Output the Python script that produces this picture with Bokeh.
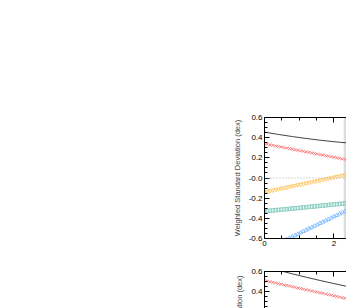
import math
from bokeh.plotting import figure
from bokeh.layouts import column
from bokeh.models import LinearAxis, FixedTicker, BoxAnnotation, Range1d, Span
from bokeh.embed import file_html
from bokeh.resources import INLINE

# ---- data ----
xs = [0.00, 0.08, 0.16, 0.24, 0.32, 0.40, 0.48, 0.56, 0.64, 0.72, 0.80, 0.88, 0.96, 1.04,
      1.12, 1.20, 1.28, 1.36, 1.44, 1.52, 1.60, 1.68, 1.76, 1.84, 1.92, 2.00, 2.08, 2.16,
      2.24, 2.32, 2.40]

red_top = [0.340, 0.335, 0.329, 0.324, 0.318, 0.313, 0.308, 0.302, 0.297, 0.292, 0.286,
           0.281, 0.275, 0.270, 0.265, 0.259, 0.254, 0.249, 0.243, 0.238, 0.232, 0.227,
           0.222, 0.216, 0.211, 0.206, 0.200, 0.195, 0.189, 0.184, 0.179]
orange_top = [-0.140, -0.134, -0.128, -0.122, -0.116, -0.111, -0.105, -0.099, -0.093, -0.087,
              -0.081, -0.075, -0.069, -0.064, -0.058, -0.052, -0.046, -0.040, -0.034, -0.028,
              -0.022, -0.017, -0.011, -0.005, 0.001, 0.007, 0.013, 0.019, 0.025, 0.031, 0.036]
teal_top = [-0.330, -0.327, -0.325, -0.322, -0.319, -0.317, -0.314, -0.311, -0.309, -0.306,
            -0.303, -0.300, -0.298, -0.295, -0.292, -0.290, -0.287, -0.284, -0.282, -0.279,
            -0.276, -0.273, -0.271, -0.268, -0.265, -0.263, -0.260, -0.257, -0.255, -0.252, -0.249]
blue_top = [-0.715, -0.702, -0.688, -0.675, -0.662, -0.649, -0.635, -0.622, -0.609, -0.595,
            -0.582, -0.569, -0.556, -0.542, -0.529, -0.516, -0.502, -0.489, -0.476, -0.463,
            -0.449, -0.436, -0.423, -0.410, -0.396, -0.383, -0.370, -0.356, -0.343, -0.330, -0.317]

line_x = [0.0, 0.4, 0.8, 1.2, 1.6, 2.0, 2.4]
black_top = [0.455, 0.432, 0.411, 0.392, 0.375, 0.360, 0.347]
black_bot = [0.648, 0.612, 0.577, 0.543, 0.511, 0.480, 0.450]

red_bot = [0.510, 0.504, 0.498, 0.492, 0.486, 0.480, 0.474, 0.468, 0.462, 0.456, 0.450,
           0.443, 0.437, 0.431, 0.425, 0.419, 0.413, 0.407, 0.401, 0.395, 0.389, 0.383,
           0.377, 0.371, 0.365, 0.359, 0.353, 0.346, 0.340, 0.334, 0.328]

y_ticks = [-0.6, -0.4, -0.2, 0.0, 0.2, 0.4, 0.6]
y_tick_labels = ["-0.6", "-0.4", "-0.2", "-0.0", "0.2", "0.4", "0.6"]
y_minor = [-0.55, -0.5, -0.45, -0.35, -0.3, -0.25, -0.15, -0.1, -0.05,
           0.05, 0.1, 0.15, 0.25, 0.3, 0.35, 0.45, 0.5, 0.55]
x_ticks = [0, 2]
x_tick_labels = ["0", "2"]
x_minor = [0.5, 1.0, 1.5, 2.5]
shade_start = 2.28
y_label = "Weighted Standard Deviation (dex)"

FONT = "Liberation Sans"
RED = "#ff7a7a"
ORANGE = "#ffcc70"
TEAL = "#8fd0c4"
BLUE = "#88c0ff"
LINE = "#444444"

XR = (0, 2.36)


def style_axis(ax, labels=True):
    ax.axis_line_color = "black"
    ax.axis_line_width = 1
    ax.major_tick_in = 5
    ax.major_tick_out = 0
    ax.minor_tick_in = 3
    ax.minor_tick_out = 0
    ax.major_tick_line_color = "black"
    ax.minor_tick_line_color = "black"
    ax.major_label_text_font = FONT
    ax.major_label_text_font_size = "8px"
    ax.major_label_text_color = "black"
    ax.major_label_standoff = 2 if labels else 0


def style_label(ax, text):
    ax.axis_label = text
    ax.axis_label_text_font = FONT
    ax.axis_label_text_font_size = "7.5px"
    ax.axis_label_text_font_style = "normal"
    ax.axis_label_standoff = 4


def make_fig(height, yr, border_top, border_bottom, xlabels):
    p = figure(width=346, height=height, output_backend="svg", toolbar_location=None,
               x_range=Range1d(*XR), y_range=Range1d(*yr),
               x_axis_location=None, y_axis_location=None,
               min_border_left=264, min_border_right=0,
               min_border_top=border_top, min_border_bottom=border_bottom)
    p.outline_line_color = None
    p.xgrid.visible = False
    p.ygrid.visible = False
    p.background_fill_color = "white"
    p.border_fill_color = "white"

    yticker = FixedTicker(ticks=y_ticks, minor_ticks=y_minor)
    xticker = FixedTicker(ticks=x_ticks, minor_ticks=x_minor)

    left = LinearAxis(ticker=yticker)
    style_axis(left)
    left.major_label_overrides = {t: s for t, s in zip(y_ticks, y_tick_labels)}
    p.add_layout(left, "left")

    top = LinearAxis(ticker=xticker)
    style_axis(top, labels=False)
    top.major_label_overrides = {t: "" for t in x_ticks}
    p.add_layout(top, "above")

    if xlabels:
        bottom = LinearAxis(ticker=xticker)
        style_axis(bottom)
        bottom.major_label_overrides = {t: s for t, s in zip(x_ticks, x_tick_labels)}
        p.add_layout(bottom, "below")
    return p, left


# ---- panel 1 ----
p1, left1 = make_fig(262, (-0.6, 0.6), 117, 24, True)
style_label(left1, y_label)

p1.add_layout(BoxAnnotation(left=shade_start, fill_color="#dcdcdc", fill_alpha=1.0,
                            line_color=None, level="underlay"))
p1.add_layout(Span(location=0, dimension="width", line_color="#b0b0b0",
                   line_dash="1 2", line_width=1))
p1.line(line_x, black_top, line_color=LINE, line_width=1)
p1.scatter(xs, red_top, marker="x", size=4, line_color=RED, line_width=1)
p1.scatter(xs, orange_top, marker="inverted_triangle", size=4, line_color=ORANGE,
           fill_color=None, line_width=1)
p1.scatter(xs, teal_top, marker="square", size=3.5, line_color=TEAL,
           fill_color=None, line_width=1)
p1.scatter(xs, blue_top, marker="triangle", size=4, line_color=BLUE,
           fill_color=None, line_width=1)

# ---- panel 2 (continues below the window; its label is centred lower down) ----
p2, left2 = make_fig(46, (0.233, 0.6), 9, 0, False)
p2.line(line_x, black_bot, line_color=LINE, line_width=1)
p2.scatter(xs, red_bot, marker="x", size=4, line_color=RED, line_width=1)
style_label(left2, y_label + "\u00a0" * 42)

layout = column(p1, p2, spacing=0)
open("out.html", "w").write(file_html(layout, INLINE))
